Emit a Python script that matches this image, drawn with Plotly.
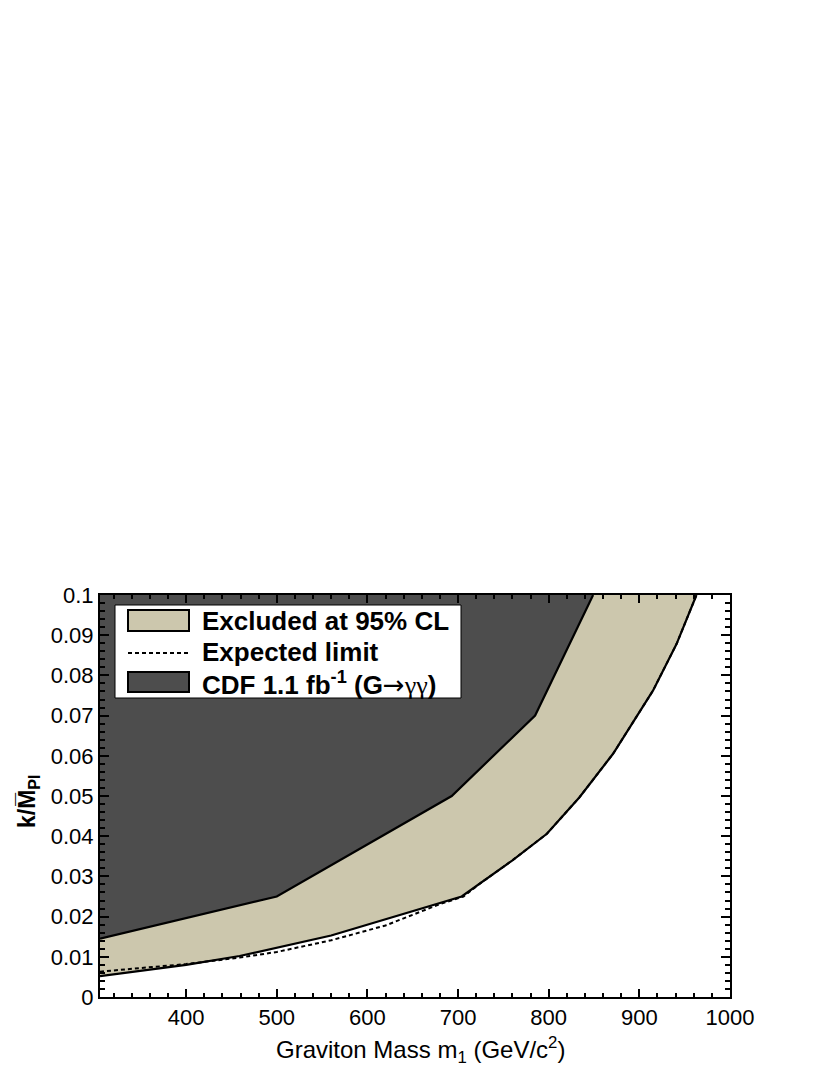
import plotly.graph_objects as go

# ---------------- data ----------------
cdf_mass = [305, 500, 693, 785, 849]
cdf_k = [0.0145, 0.025, 0.050, 0.070, 0.100]

obs_mass = [305, 400, 459, 500, 560, 704, 724, 760, 798, 834, 871, 900, 915, 941, 963]
obs_k = [0.0052, 0.0080, 0.0102, 0.0123, 0.0153, 0.0250, 0.0282, 0.0340, 0.0406,
         0.0497, 0.0605, 0.0710, 0.0762, 0.0878, 0.100]

exp_mass = [305, 400, 459, 500, 560, 620, 680, 706, 724, 760, 798, 834, 871, 900, 915, 941, 963]
exp_k = [0.0063, 0.0082, 0.0098, 0.0112, 0.0141, 0.0178, 0.0231, 0.0250, 0.0282, 0.0340,
         0.0406, 0.0497, 0.0605, 0.0710, 0.0762, 0.0878, 0.100]

x_ticks = [400, 500, 600, 700, 800, 900, 1000]
y_ticks = [0, 0.01, 0.02, 0.03, 0.04, 0.05, 0.06, 0.07, 0.08, 0.09, 0.1]
y_tick_labels = ["0", "0.01", "0.02", "0.03", "0.04", "0.05", "0.06", "0.07", "0.08", "0.09", "0.1"]

legend_labels = [
    "Excluded at 95% CL",
    "Expected limit",
    'CDF 1.1 fb<sup>-1</sup> (G'
    '<span style="font-family:DejaVu Sans;font-weight:normal">\u2192</span>'
    '<span style="font-family:Liberation Serif;font-weight:normal">\u03b3\u03b3</span>)',
]

x_range = [305, 1000]
y_range = [0, 0.1]

BEIGE = "#ccc7ad"
DARK = "#4d4d4d"

# ---------------- layout geometry ----------------
# page body has an 8px default margin; compensate so the plot area
# lands at x 100..730, y 595..997 in the window
OFF = 8
W, H = 830 - OFF, 1075 - OFF
ML, MR, MT, MB = 100 - OFF, 100, 595 - OFF, 78
PW = W - ML - MR
PH = H - MT - MB


def px(xp):
    # window pixel -> paper fraction
    return (xp - OFF - ML) / PW


def py(yp):
    return (H + OFF - MB - yp) / PH


fig = go.Figure()

# beige excluded region
fig.add_trace(go.Scatter(
    x=obs_mass + [x_range[0]], y=obs_k + [y_range[1]],
    fill="toself", fillcolor=BEIGE, mode="lines", line=dict(width=0),
    hoverinfo="skip", showlegend=False))

# dark CDF region
fig.add_trace(go.Scatter(
    x=cdf_mass + [x_range[0]], y=cdf_k + [y_range[1]],
    fill="toself", fillcolor=DARK, mode="lines", line=dict(width=0),
    hoverinfo="skip", showlegend=False))

# expected limit (dashed)
fig.add_trace(go.Scatter(
    x=exp_mass, y=exp_k, mode="lines",
    line=dict(color="black", width=2, dash="4px,3px"), showlegend=False))

# boundaries
fig.add_trace(go.Scatter(
    x=cdf_mass, y=cdf_k, mode="lines",
    line=dict(color="black", width=2.2), showlegend=False))
fig.add_trace(go.Scatter(
    x=obs_mass, y=obs_k, mode="lines",
    line=dict(color="black", width=2.2), showlegend=False))

axis_common = dict(
    showline=True, linecolor="black", linewidth=2, mirror="ticks",
    ticks="inside", tickcolor="black", tickwidth=1.5,
    showgrid=False, zeroline=False,
    tickfont=dict(family="Liberation Sans, Arial", size=22, color="black"),
)

fig.update_xaxes(
    range=x_range, tickvals=x_ticks, ticklen=8,
    minor=dict(ticks="inside", dtick=20, ticklen=4, tickcolor="black", tickwidth=1.5, showgrid=False),
    **axis_common)
fig.update_yaxes(
    range=y_range, tickvals=y_ticks, ticktext=y_tick_labels, ticklen=9,
    minor=dict(ticks="inside", dtick=0.002, ticklen=5, tickcolor="black", tickwidth=1.5, showgrid=False),
    **axis_common)

shapes = []
annotations = []

# legend box
shapes.append(dict(type="rect", xref="paper", yref="paper",
                   x0=px(115), x1=px(461), y0=py(605), y1=py(698),
                   fillcolor="white", line=dict(color="black", width=1)))
# swatches
shapes.append(dict(type="rect", xref="paper", yref="paper",
                   x0=px(128), x1=px(189), y0=py(610), y1=py(631),
                   fillcolor=BEIGE, line=dict(color="black", width=2)))
shapes.append(dict(type="line", xref="paper", yref="paper",
                   x0=px(128), x1=px(189), y0=py(653), y1=py(653),
                   line=dict(color="black", width=2, dash="4px,3px")))
shapes.append(dict(type="rect", xref="paper", yref="paper",
                   x0=px(128), x1=px(189), y0=py(672), y1=py(692),
                   fillcolor=DARK, line=dict(color="black", width=2)))

for lbl, yc in zip(legend_labels, [621, 652, 683]):
    annotations.append(dict(
        text="<b>" + lbl + "</b>", xref="paper", yref="paper",
        x=px(200), y=py(yc), xanchor="left", yanchor="middle", showarrow=False,
        font=dict(family="Liberation Sans, Arial", size=26, color="black")))

# axis titles
annotations.append(dict(
    text="Graviton Mass m<sub>1</sub> (GeV/c<sup>2</sup>)", xref="paper", yref="paper",
    x=px(420), y=py(1050), xanchor="center", yanchor="middle", showarrow=False,
    font=dict(family="Liberation Sans, Arial", size=24, color="black")))
annotations.append(dict(
    text="<b>k/M\u0305<sub>Pl</sub></b>", xref="paper", yref="paper",
    x=px(28), y=py(801), xanchor="center", yanchor="middle", showarrow=False,
    textangle=-90,
    font=dict(family="Liberation Sans, Arial", size=23, color="black")))

fig.update_layout(
    width=W, height=H,
    margin=dict(l=ML, r=MR, t=MT, b=MB),
    paper_bgcolor="white", plot_bgcolor="white",
    shapes=shapes, annotations=annotations,
    showlegend=False,
)

fig.write_html("out.html")
